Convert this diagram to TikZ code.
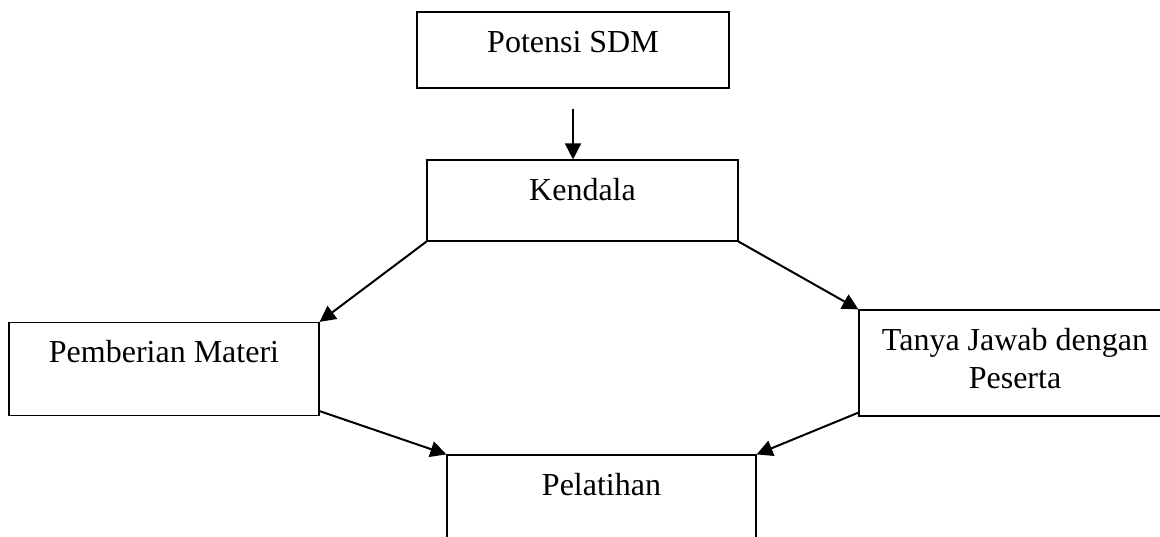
\documentclass[tikz,border=0pt]{standalone}
\usepackage{fontspec}
\setmainfont{Liberation Serif}
\usetikzlibrary{arrows.meta}

\tikzset{
  box/.style={draw=black, line width=0.6pt, inner sep=0pt, align=center,
              text height=20pt, font=\fontsize{16}{19}\selectfont},
  arr/.style={-{Triangle[length=8pt,width=8pt]}, line width=1pt}
}

\begin{document}
\begin{tikzpicture}[x=0.5pt,y=-0.5pt]
  \useasboundingbox (0,0) rectangle (1160,536);
  \node[box, minimum width=156pt, text depth=18pt]   (potensi)   at (573,50)      {Potensi SDM};
  \node[box, minimum width=155.5pt, text depth=20.5pt] (kendala) at (582.5,200.5) {Kendala};
  \node[box, minimum width=155pt, text depth=26.5pt] (materi)    at (164,369)     {Pemberian Materi};
  \node[box, minimum width=156pt, text height=39pt, text depth=14pt] (tanya) at (1015,363) {Tanya Jawab dengan\\Peserta};
  \node[box, minimum width=154.5pt, text depth=25pt] (pelatihan) at (601.5,500)   {Pelatihan};
  % panah
  \draw[arr] ([yshift=-10pt]potensi.south) -- (potensi.south |- kendala.north);
  \draw[arr] (kendala.south west) -- (materi.north east);
  \draw[arr] (kendala.south east) -- (tanya.north west);
  \draw[arr] ([yshift=2.5pt]materi.south east) -- (pelatihan.north west);
  \draw[arr] ([yshift=2pt]tanya.south west) -- (pelatihan.north east);
\end{tikzpicture}
\end{document}
